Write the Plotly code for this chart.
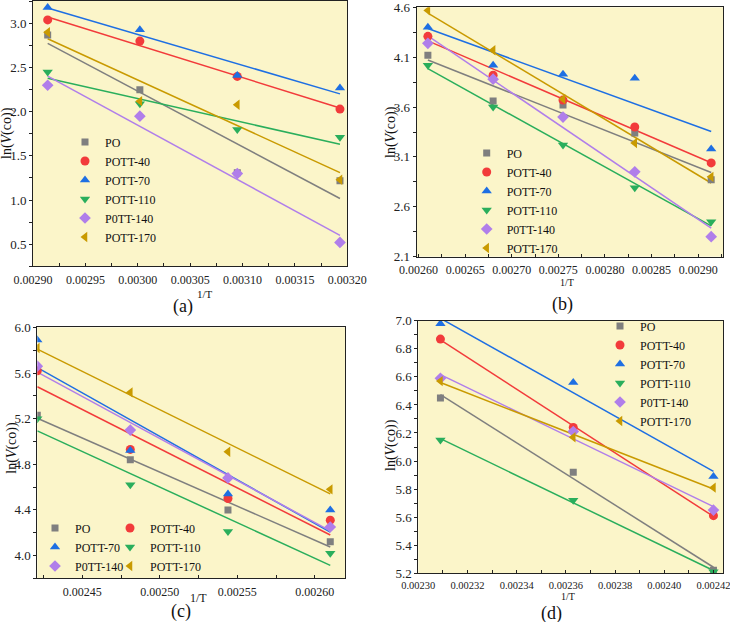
import numpy as np
import plotly.graph_objects as go

SERIF = "Liberation Serif, Times New Roman, serif"
W, H = 730, 622

names = ["PO", "POTT-40", "POTT-70", "POTT-110", "P0TT-140", "POTT-170"]
colors = ["#7F7F7F", "#F23B3B", "#1E6FE3", "#2AAE5C", "#B07EEA", "#C99A00"]
symbols = ["square", "circle", "triangle-up", "triangle-down", "diamond", "triangle-left"]
msizes = [7, 9, 9, 9, 9, 9]

# panel (a)
x_a = [0.002914, 0.003002, 0.003095, 0.003193]
y_a = [
    [2.87, 2.25, 1.31, 1.22],
    [3.04, 2.80, 2.40, 2.03],
    [3.18, 2.93, 2.41, 2.27],
    [2.45, 2.09, 1.80, 1.71],
    [2.30, 1.95, 1.30, 0.52],
    [2.90, 2.12, 2.08, 1.23],
]
# panel (b)
x_b = [0.002610, 0.002680, 0.002755, 0.002832, 0.002914]
y_b = [
    [4.12, 3.66, 3.62, 3.34, 2.87],
    [4.31, 3.92, 3.67, 3.40, 3.04],
    [4.40, 4.02, 3.93, 3.89, 3.18],
    [4.02, 3.60, 3.22, 2.79, 2.45],
    [4.24, 3.88, 3.50, 2.95, 2.30],
    [4.57, 4.17, 3.68, 3.24, 2.90],
]
# panel (c)
x_c = [0.002421, 0.002481, 0.002544, 0.002610]
y_c = [
    [5.23, 4.84, 4.40, 4.12],
    [5.62, 4.93, 4.50, 4.31],
    [5.89, 4.92, 4.54, 4.40],
    [5.20, 4.62, 4.21, 4.02],
    [5.66, 5.10, 4.68, 4.25],
    [5.82, 5.43, 4.91, 4.58],
]
# panel (d)
x_d = [0.002309, 0.002363, 0.002420]
y_d = [
    [6.45, 5.92, 5.22],
    [6.87, 6.24, 5.61],
    [6.98, 6.56, 5.89],
    [6.15, 5.72, 5.21],
    [6.59, 6.21, 5.65],
    [6.57, 6.17, 5.81],
]


def px_x(p):
    return p / W


def px_y(p):
    return 1 - p / H


panels = [
    dict(x=x_a, ys=y_a, xa="x", ya="y", xdom=(33, 347.3), ydom=(0.5, 266.3),
         xr=[0.0029, 0.0032], xd=0.00005, xm=0.000025, x0=0.0029, xfs=12,
         yr=[0.25, 3.26], yd=0.5, ym=0.25, y0=0.5,
         legs=["legend"] * 6),
    dict(x=x_b, ys=y_b, xa="x2", ya="y2", xdom=(416.7, 723.3), ydom=(7.3, 256.7),
         xr=[0.002598, 0.002927], xd=0.00005, xm=0.000025, x0=0.0026, xfs=12,
         yr=[2.099, 4.601], yd=0.5, ym=0.25, y0=2.1,
         legs=["legend2"] * 6),
    dict(x=x_c, ys=y_c, xa="x3", ya="y3", xdom=(37.3, 345), ydom=(327.3, 578.3),
         xr=[0.002421, 0.0026195], xd=0.00005, xm=0.000025, x0=0.00245, xfs=12,
         yr=[3.8, 6.001], yd=0.4, ym=0.2, y0=4.0,
         legs=["legend3", "legend4", "legend3", "legend4", "legend3", "legend4"]),
    dict(x=x_d, ys=y_d, xa="x4", ya="y4", xdom=(418.3, 723.3), ydom=(320.7, 573.3),
         xr=[0.0023, 0.002424], xd=0.00002, xm=0.00001, x0=0.0023, xfs=10.5,
         yr=[5.199, 7.001], yd=0.2, ym=0.1, y0=5.2,
         legs=["legend5"] * 6),
]

fig = go.Figure()
layout = {}
for k, p in enumerate(panels):
    xs = np.array(p["x"])
    # least-squares fit lines
    for i in range(6):
        ys = np.array(p["ys"][i])
        m, b = np.polyfit(xs, ys, 1)
        xl = np.array([xs.min(), xs.max()])
        fig.add_trace(go.Scatter(x=xl, y=m * xl + b, mode="lines",
                                 line=dict(color=colors[i], width=1.5),
                                 xaxis=p["xa"], yaxis=p["ya"], showlegend=False,
                                 hoverinfo="skip"))
    for i in range(6):
        fig.add_trace(go.Scatter(x=xs, y=p["ys"][i], mode="markers", name=names[i],
                                 marker=dict(symbol=symbols[i], color=colors[i], size=msizes[i],
                                             line=dict(width=0)),
                                 xaxis=p["xa"], yaxis=p["ya"], legend=p["legs"][i]))
    xkey = "xaxis" if k == 0 else "xaxis%d" % (k + 1)
    ykey = "yaxis" if k == 0 else "yaxis%d" % (k + 1)
    common = dict(showgrid=False, zeroline=False, showline=True, linecolor="#222",
                  linewidth=1, mirror=True, tickcolor="#222", ticklen=3, automargin=False,
                  fixedrange=True, ticklabeloverflow="allow")
    layout[xkey] = dict(common, domain=[px_x(p["xdom"][0]), px_x(p["xdom"][1])],
                        anchor=p["ya"], range=p["xr"], tick0=p["x0"], dtick=p["xd"],
                        ticks="inside", tickformat=".5f", ticklabelstandoff=2,
                        tickfont=dict(family=SERIF, size=p["xfs"], color="#222"),
                        minor=dict(ticks="inside", ticklen=3, dtick=p["xm"], tick0=p["x0"],
                                   tickcolor="#222", showgrid=False))
    layout[ykey] = dict(common, domain=[px_y(p["ydom"][1]), px_y(p["ydom"][0])],
                        anchor=p["xa"], range=p["yr"], tick0=p["y0"], dtick=p["yd"],
                        ticks="outside", tickformat=".1f",
                        tickfont=dict(family=SERIF, size=13, color="#222"),
                        minor=dict(ticks="outside", ticklen=3, dtick=p["ym"], tick0=p["y0"],
                                   tickcolor="#222", showgrid=False))

leg_common = dict(bgcolor="rgba(0,0,0,0)", borderwidth=0, xanchor="left", yanchor="top",
                  font=dict(family=SERIF, size=12, color="#111"), tracegroupgap=0)
layout["legend"] = dict(leg_common, x=px_x(85 - 20), y=px_y(142 - 14.5))
layout["legend2"] = dict(leg_common, x=px_x(486.7 - 20), y=px_y(153 - 14.5))
layout["legend3"] = dict(leg_common, x=px_x(55 - 20), y=px_y(528 - 14.5))
layout["legend4"] = dict(leg_common, x=px_x(130 - 20), y=px_y(528 - 14.5))
layout["legend5"] = dict(leg_common, x=px_x(620 - 20), y=px_y(326 - 14.5))

ann = []
ytitle = "ln(<i>V</i>(co))"
for (xp, yp) in [(7, 133), (391, 132), (11.7, 448), (391, 445)]:
    ann.append(dict(text=ytitle, x=px_x(xp), y=px_y(yp), xref="paper", yref="paper",
                    showarrow=False, textangle=-90, xanchor="center", yanchor="middle",
                    font=dict(family=SERIF, size=14, color="#111")))
for (xp, yp, fs) in [(205, 294, 11), (566.7, 282, 10), (198, 598, 12), (568, 596, 10)]:
    ann.append(dict(text="1/T", x=px_x(xp), y=px_y(yp), xref="paper", yref="paper",
                    showarrow=False, xanchor="center", yanchor="middle",
                    font=dict(family=SERIF, size=fs, color="#111")))
for (lab, xp, yp) in [("(a)", 183, 306), ("(b)", 562, 304), ("(c)", 181, 611), ("(d)", 551, 613)]:
    ann.append(dict(text=lab, x=px_x(xp), y=px_y(yp), xref="paper", yref="paper",
                    showarrow=False, xanchor="center", yanchor="middle",
                    font=dict(family=SERIF, size=18, color="#111")))

fig.update_layout(width=W, height=H, margin=dict(l=0, r=0, t=0, b=0),
                  paper_bgcolor="white", plot_bgcolor="#FBF5C9",
                  annotations=ann, **layout)
fig.write_html("out.html")
